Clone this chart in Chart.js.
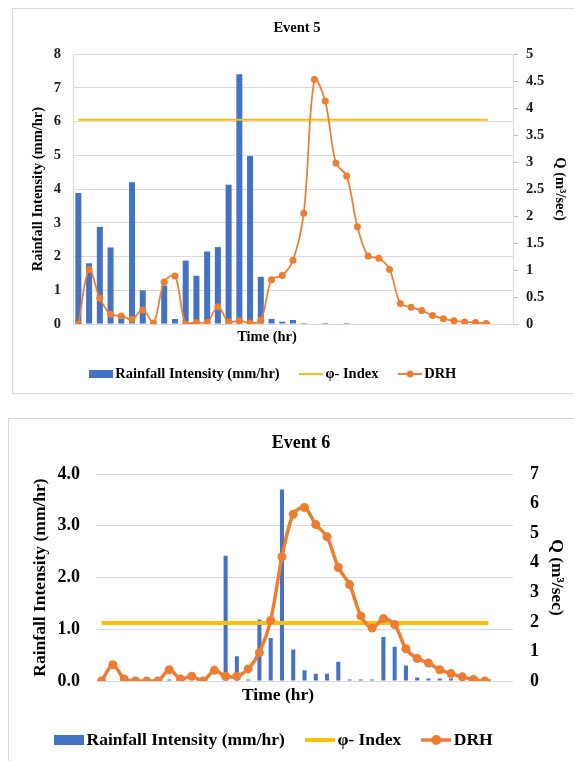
<!DOCTYPE html>
<html><head><meta charset="utf-8">
<script src="https://cdn.jsdelivr.net/npm/chart.js@4.4.0/dist/chart.umd.min.js"></script>
<style>
html,body{margin:0;padding:0;background:#fff;overflow:hidden;width:574px;height:761px;}
.box{position:absolute;border:1px solid #d9d9d9;background:#fff;}
#b1{left:12px;top:8px;width:600px;height:384px;}
#b2{left:8px;top:418px;width:600px;height:400px;}
.cw{position:absolute;left:0;top:0;}
#w1{width:561px;height:384px;}
#w2{width:565px;height:342px;}
</style></head><body>
<div class="box" id="b1"><div class="cw" id="w1"><canvas id="c1"></canvas></div></div>
<div class="box" id="b2"><div class="cw" id="w2"><canvas id="c2"></canvas></div></div>
<script>
// ---------- Event 5 data ----------
const time5 = [1,2,3,4,5,6,7,8,9,10,11,12,13,14,15,16,17,18,19,20,21,22,23,24,25,26,27,28,29,30,31,32,33,34,35,36,37,38,39,40,41];
const rain5 = [3.88,1.8,2.88,2.27,0.25,4.2,1.0,0,1.14,0.15,1.88,1.43,2.15,2.28,4.13,7.4,4.98,1.4,0.15,0.07,0.12,0.03,0,0.03,0,0.03,0,0,0,0,0,0,0,0,0,0,0,0,0,0,null];
const drh5 = [0,1.01,0.48,0.18,0.15,0.09,0.26,0.02,0.78,0.89,0,0.03,0.03,0.32,0.04,0.06,0.02,0.07,0.82,0.9,1.18,2.05,4.53,4.13,2.98,2.74,1.8,1.26,1.22,1.01,0.38,0.31,0.25,0.16,0.1,0.06,0.04,0.03,0.01,0.01,null];
const phi5 = 6.05;
const phi5Span = [1, 40];
const leftTicks5 = [0,1,2,3,4,5,6,7,8];
const rightTicks5 = [0,0.5,1,1.5,2,2.5,3,3.5,4,4.5,5];

// ---------- Event 6 data ----------
const time6 = [1,2,3,4,5,6,7,8,9,10,11,12,13,14,15,16,17,18,19,20,21,22,23,24,25,26,27,28,29,30,31,32,33,34,35,36,37];
const rain6 = [0,0,0,0,0,0,0.03,0,0,0,0,2.42,0.48,0.03,1.19,0.83,3.7,0.61,0.21,0.14,0.14,0.37,0.03,0.03,0.03,0.85,0.66,0.3,0.07,0.05,0.05,0.05,0.02,0,0,0.12,0];
const drh6 = [0,0.55,0.07,0,0,0,0.38,0.07,0.16,0,0.36,0.16,0.16,0.41,0.96,2.05,4.2,5.64,5.87,5.29,4.88,3.84,3.26,2.2,1.79,2.11,1.91,1.09,0.76,0.61,0.38,0.25,0.14,0.05,0,0,0];
const phi6 = 1.12;
const phi6Span = [1, 37];
const leftTicks6 = [0,1,2,3,4];
const rightTicks6 = [0,1,2,3,4,5,6,7];

const FONT = "'Liberation Serif','Times New Roman',serif";
const BLUE = '#4472C4', GOLD = '#FFC000', ORANGE = '#ED7D31', GRID = '#d9d9d9';

function icon(kind, w, h, s) {
  const c = document.createElement('canvas'); c.width = w; c.height = h;
  const g = c.getContext('2d');
  const cy = h / 2;
  if (kind === 'bar') { g.fillStyle = BLUE; g.fillRect(0, cy - s.barH / 2, w, s.barH); }
  else {
    g.strokeStyle = kind === 'phi' ? GOLD : ORANGE;
    g.lineWidth = kind === 'phi' ? s.phiW : s.drhW;
    g.beginPath(); g.moveTo(0, cy); g.lineTo(w, cy); g.stroke();
    if (kind === 'drh') { g.fillStyle = ORANGE; g.beginPath(); g.arc(w / 2, cy, s.r, 0, Math.PI * 2); g.fill(); }
  }
  return c;
}

const shiftPlugin = {
  id: 'shift',
  afterLayout(chart, args, o) {
    const mv = (b, dx) => { if (b && dx) { b.left += dx; b.right += dx; } };
    mv(chart.legend, o.legendDx); mv(chart.titleBlock, o.titleDx); mv(chart.scales.x, o.xTitleDx);
  }
};

function build(id, cfg) {
  const f = (size) => ({family: FONT, size: size, weight: 'bold'});
  const icons = [icon('bar', cfg.iconW, cfg.iconH, cfg.ic), icon('phi', cfg.iconW, cfg.iconH, cfg.ic), icon('drh', cfg.iconW, cfg.iconH, cfg.ic)];
  return new Chart(document.getElementById(id), {
    data: {
      labels: cfg.time,
      datasets: [
        {type: 'bar', label: 'Rainfall Intensity (mm/hr)', data: cfg.rain, backgroundColor: BLUE,
         yAxisID: 'y', order: 3, barPercentage: cfg.barPct, categoryPercentage: 1},
        {type: 'line', label: 'φ- Index', data: [{x: cfg.phiSpan[0], y: cfg.phi}, {x: cfg.phiSpan[1], y: cfg.phi}],
         borderColor: GOLD, backgroundColor: GOLD, borderWidth: cfg.phiW, pointRadius: 0, yAxisID: 'y', order: 2},
        {type: 'line', label: 'DRH', data: cfg.drh, borderColor: ORANGE, backgroundColor: ORANGE,
         borderWidth: cfg.drhW, pointRadius: cfg.r, pointHoverRadius: cfg.r, pointBorderWidth: 0,
         tension: cfg.tension, yAxisID: 'y1', order: 1}
      ]
    },
    options: {
      responsive: true, maintainAspectRatio: false, animation: false,
      layout: {padding: {top: 0, bottom: cfg.padBottom, left: 0, right: 0}},
      plugins: {
        shift: cfg.shift,
        tooltip: {enabled: false},
        title: {display: true, text: cfg.title, color: '#000', font: f(cfg.titleSize),
                padding: {top: cfg.titlePadTop, bottom: cfg.titlePadBottom}},
        legend: {
          position: 'bottom',
          labels: {
            usePointStyle: true, pointStyleWidth: cfg.psw, padding: cfg.legendPad, color: '#000', font: f(cfg.legendSize),
            generateLabels(chart) {
              const items = Chart.defaults.plugins.legend.labels.generateLabels(chart);
              items.sort((a, b) => a.datasetIndex - b.datasetIndex);
              items.forEach(it => { it.pointStyle = icons[it.datasetIndex]; it.lineWidth = 0; });
              return items;
            }
          }
        }
      },
      scales: {
        x: {
          type: 'category', offset: true,
          ticks: {display: false}, grid: {display: false, drawTicks: false}, border: {display: false},
          title: {display: true, text: 'Time (hr)', color: '#000', font: f(cfg.axisTitleSize),
                  padding: {top: cfg.xTitlePadTop, bottom: cfg.xTitlePadBottom}}
        },
        y: {
          position: 'left', min: 0, max: cfg.leftTicks[cfg.leftTicks.length - 1],
          afterBuildTicks(s) { s.ticks = cfg.leftTicks.map(v => ({value: v})); },
          ticks: {padding: cfg.leftTickPad, color: cfg.tickColor, font: f(cfg.tickSize), callback: cfg.leftFmt},
          grid: {color: GRID, lineWidth: 1, drawTicks: false},
          border: {display: cfg.axisLines, color: GRID},
          title: {display: true, text: 'Rainfall Intensity (mm/hr)', color: '#000', font: f(cfg.axisTitleSize),
                  padding: {top: cfg.leftTitlePad, bottom: 0}},
          afterFit(s) { s.width = cfg.leftW; }
        },
        y1: {
          position: 'right', min: 0, max: cfg.rightTicks[cfg.rightTicks.length - 1],
          afterBuildTicks(s) { s.ticks = cfg.rightTicks.map(v => ({value: v})); },
          ticks: {padding: cfg.rightTickPad, color: cfg.tickColor, font: f(cfg.tickSize), callback: v => String(v)},
          grid: {drawOnChartArea: false, drawTicks: cfg.axisLines, tickLength: 5, color: GRID, tickColor: '#bfbfbf'},
          border: {display: cfg.axisLines, color: GRID},
          title: {display: true, text: 'Q (m³/sec)', color: '#000', font: f(cfg.axisTitleSize),
                  padding: {top: cfg.rightTitlePad, bottom: 0}},
          afterFit(s) { s.width = cfg.rightW; }
        }
      }
    },
    plugins: [shiftPlugin]
  });
}

build('c1', {
  time: time5, rain: rain5, drh: drh5, phi: phi5, phiSpan: phi5Span,
  leftTicks: leftTicks5, rightTicks: rightTicks5, leftFmt: v => String(v),
  title: 'Event 5', titleSize: 14.5, titlePadTop: 10.3, titlePadBottom: 17.3,
  legendSize: 14.5, axisTitleSize: 14.5, tickSize: 14.5, tickColor: '#1a1a1a',
  padBottom: 1.75, psw: 13.5, legendPad: 25, iconW: 24, iconH: 10,
  ic: {barH: 8, phiW: 2, drhW: 2, r: 3.5},
  xTitlePadTop: 4.3, xTitlePadBottom: -4,
  leftTickPad: 12, rightTickPad: 8, leftTitlePad: 16.3, rightTitlePad: 5.3,
  leftW: 60, rightW: 61, axisLines: true,
  barPct: 0.56, phiW: 2, drhW: 1.75, r: 3.5, tension: 0.35,
  shift: {legendDx: -18, titleDx: 3.5, xTitleDx: -26}
});

build('c2', {
  time: time6, rain: rain6, drh: drh6, phi: phi6, phiSpan: phi6Span,
  leftTicks: leftTicks6, rightTicks: rightTicks6, leftFmt: v => Number(v).toFixed(1),
  title: 'Event 6', titleSize: 18, titlePadTop: 13.2, titlePadBottom: 20.2,
  legendSize: 17.5, axisTitleSize: 17.5, tickSize: 18, tickColor: '#000',
  padBottom: 2.25, psw: 17.5, legendPad: 26.25, iconW: 30, iconH: 14,
  ic: {barH: 10, phiW: 4, drhW: 3.5, r: 5},
  xTitlePadTop: 3.5, xTitlePadBottom: -0.5,
  leftTickPad: 16, rightTickPad: 17, leftTitlePad: 20.5, rightTitlePad: 6.5,
  leftW: 87, rightW: 61, axisLines: false,
  barPct: 0.36, phiW: 4, drhW: 3.5, r: 4.5, tension: 0.3,
  shift: {legendDx: -15, titleDx: 9.5, xTitleDx: -26.5}
});
</script></body></html>
